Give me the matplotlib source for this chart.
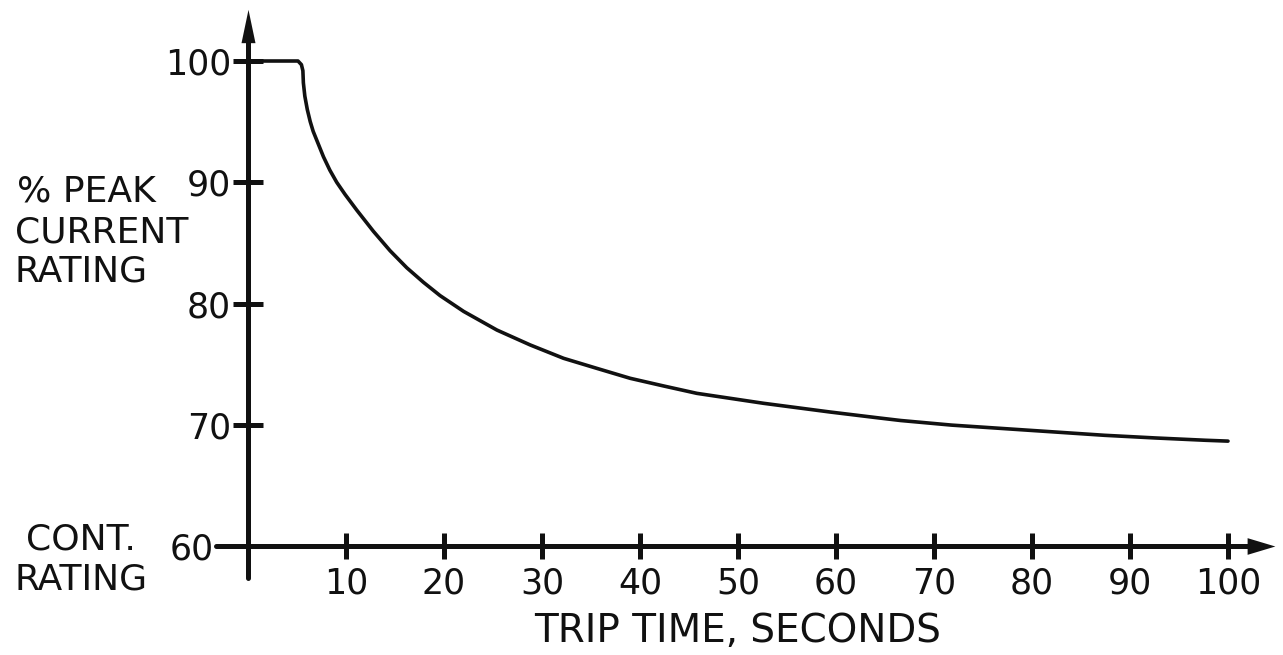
import matplotlib

matplotlib.use("Agg")
import matplotlib.pyplot as plt
from matplotlib.transforms import ScaledTranslation

# curve: trip time [s] vs % of peak current rating
trip_time = [0, 5.1, 5.45, 5.6, 5.65, 5.8, 6.05, 6.35, 6.65, 7.2, 7.7, 8.35,
             9.05, 9.9, 11.1, 12.8, 14.5, 16.2, 17.9, 19.6, 22.0, 25.4, 28.8,
             32.2, 35.6, 39.0, 42.4, 45.8, 49.2, 52.6, 56.0, 59.4, 64.5, 66.6,
             71.8, 77.0, 82.2, 87.4, 92.6, 97.7, 100]
pct_peak = [100, 100, 99.7, 99.2, 98.2, 97.1, 96.0, 95.0, 94.2, 93.1, 92.1, 91.0,
            90.0, 89.0, 87.7, 85.95, 84.35, 82.95, 81.75, 80.65, 79.35, 77.81, 76.58,
            75.48, 74.65, 73.83, 73.2, 72.59, 72.18, 71.77, 71.41, 71.05, 70.55, 70.35,
            69.97, 69.69, 69.41, 69.13, 68.91, 68.72, 68.65]

x_ticks = [10, 20, 30, 40, 50, 60, 70, 80, 90, 100]
y_ticks = [60, 70, 80, 90, 100]

INK = "#111111"
W, H = 1283, 655
X0, SX = 248, 9.8        # pixel of t=0, pixels per second
Y60, SY = 546, 12.125    # pixel row of 60 %, pixels per percent

fig = plt.figure(figsize=(W / 100, H / 100), dpi=100)
ax = fig.add_axes([0, 0, 1, 1])
ax.set_xlim(-X0 / SX, (W - X0) / SX)
ax.set_ylim(60 - (H - Y60) / SY, 60 + Y60 / SY)

for s in ["top", "right"]:
    ax.spines[s].set_visible(False)
ax.spines["left"].set_position(("data", 0))
ax.spines["bottom"].set_position(("data", 60))
ax.spines["left"].set_bounds(57.4, 102.6)
ax.spines["bottom"].set_bounds(-3.3, 103.5)
for s in ["left", "bottom"]:
    ax.spines[s].set_linewidth(3.6)
    ax.spines[s].set_color(INK)
    ax.spines[s].set_capstyle("round")

# arrow heads on the axes
up = [(-0.42, -1), (0.42, -1), (0, 1)]
right = [(-1, -0.6), (1, 0), (-1, 0.6)]
ax.plot([0], [102.85], marker=up, ms=24, color=INK, mew=0)
ax.plot([103.4], [60], marker=right, ms=20, color=INK, mew=0)

ax.plot(trip_time, pct_peak, color=INK, lw=2.6,
        solid_capstyle="round", solid_joinstyle="round")

ax.set_xticks(x_ticks)
ax.set_xticklabels([str(v) for v in x_ticks])
ax.set_yticks(y_ticks)
ax.set_yticklabels([str(v) for v in y_ticks])
ax.tick_params(axis="x", direction="inout", length=19.4, width=3.6, pad=5,
               labelsize=25, colors=INK)
ax.tick_params(axis="y", direction="inout", length=21.6, width=3.6, pad=1.5,
               labelsize=25, colors=INK)

# the "60" sits left of the extended x axis line
lbl60 = ax.get_yticklabels()[0]
lbl60.set_transform(lbl60.get_transform()
                    + ScaledTranslation(-0.17, 0, fig.dpi_scale_trans))


def px(x, y):
    return x / W, 1 - y / H


lab = dict(fontsize=26, color=INK, va="baseline", transform=ax.transAxes)
ax.text(*px(17, 202), "% PEAK", ha="left", **lab)
ax.text(*px(15, 243), "CURRENT", ha="left", **lab)
ax.text(*px(15, 282), "RATING", ha="left", **lab)
ax.text(*px(81, 550), "CONT.", ha="center", **lab)
ax.text(*px(81, 590), "RATING", ha="center", **lab)
ax.text(*px(738, 642), "TRIP TIME, SECONDS", ha="center",
        **{**lab, "fontsize": 28})

fig.savefig("out.png", dpi=100, facecolor="white")
